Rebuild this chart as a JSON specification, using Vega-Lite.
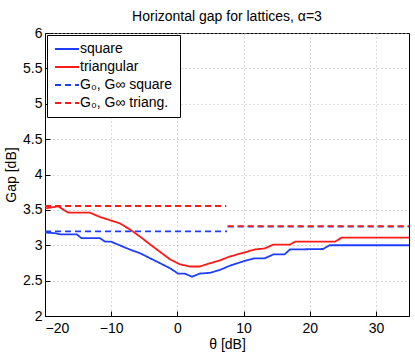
{
  "$schema": "https://vega.github.io/schema/vega-lite/v6.json",
  "width": 364,
  "height": 283,
  "autosize": {"type": "none"},
  "padding": {"left": 45, "top": 33, "right": 6, "bottom": 38},
  "title": {"text": "Horizontal gap for lattices, α=3", "fontSize": 14, "fontWeight": "normal", "font": "Liberation Sans", "offset": 2, "color": "black", "anchor": "middle"},
  "config": {
    "font": "Liberation Sans",
    "view": {"stroke": "black", "strokeWidth": 1},
    "axis": {
      "labelFont": "Liberation Sans", "labelFontSize": 14, "labelColor": "black",
      "titleFont": "Liberation Sans", "titleFontSize": 14, "titleFontWeight": "normal", "titleColor": "black",
      "domainColor": "black", "tickColor": "black", "tickSize": -5,
      "grid": true, "gridColor": "#b0b0b0", "gridDash": [1, 3], "gridWidth": 1
    }
  },
  "data": {"values": [
    {"series": "square", "seg": 1, "theta": -20, "gap": 3.18},
    {"series": "square", "seg": 1, "theta": -18.5, "gap": 3.17},
    {"series": "square", "seg": 1, "theta": -17.7, "gap": 3.155},
    {"series": "square", "seg": 1, "theta": -15.2, "gap": 3.155},
    {"series": "square", "seg": 1, "theta": -14.5, "gap": 3.10},
    {"series": "square", "seg": 1, "theta": -11.7, "gap": 3.10},
    {"series": "square", "seg": 1, "theta": -10.9, "gap": 3.05},
    {"series": "square", "seg": 1, "theta": -10, "gap": 3.05},
    {"series": "square", "seg": 1, "theta": -7.2, "gap": 2.94},
    {"series": "square", "seg": 1, "theta": -5.6, "gap": 2.886},
    {"series": "square", "seg": 1, "theta": -4.1, "gap": 2.815},
    {"series": "square", "seg": 1, "theta": -1.1, "gap": 2.675},
    {"series": "square", "seg": 1, "theta": 0.1, "gap": 2.60},
    {"series": "square", "seg": 1, "theta": 1.1, "gap": 2.60},
    {"series": "square", "seg": 1, "theta": 2.2, "gap": 2.555},
    {"series": "square", "seg": 1, "theta": 3.4, "gap": 2.60},
    {"series": "square", "seg": 1, "theta": 4.9, "gap": 2.61},
    {"series": "square", "seg": 1, "theta": 6.4, "gap": 2.65},
    {"series": "square", "seg": 1, "theta": 7.9, "gap": 2.71},
    {"series": "square", "seg": 1, "theta": 10.2, "gap": 2.78},
    {"series": "square", "seg": 1, "theta": 11.7, "gap": 2.815},
    {"series": "square", "seg": 1, "theta": 13.2, "gap": 2.815},
    {"series": "square", "seg": 1, "theta": 14.5, "gap": 2.87},
    {"series": "square", "seg": 1, "theta": 16.2, "gap": 2.87},
    {"series": "square", "seg": 1, "theta": 17, "gap": 2.94},
    {"series": "square", "seg": 1, "theta": 22, "gap": 2.947},
    {"series": "square", "seg": 1, "theta": 23, "gap": 3.0},
    {"series": "square", "seg": 1, "theta": 35, "gap": 3.0},
    {"series": "triangular", "seg": 1, "theta": -20, "gap": 3.52},
    {"series": "triangular", "seg": 1, "theta": -18, "gap": 3.55},
    {"series": "triangular", "seg": 1, "theta": -16.5, "gap": 3.46},
    {"series": "triangular", "seg": 1, "theta": -13.2, "gap": 3.46},
    {"series": "triangular", "seg": 1, "theta": -11.7, "gap": 3.40},
    {"series": "triangular", "seg": 1, "theta": -8.7, "gap": 3.31},
    {"series": "triangular", "seg": 1, "theta": -7.2, "gap": 3.225},
    {"series": "triangular", "seg": 1, "theta": -5.6, "gap": 3.12},
    {"series": "triangular", "seg": 1, "theta": -4.1, "gap": 3.01},
    {"series": "triangular", "seg": 1, "theta": -1.1, "gap": 2.80},
    {"series": "triangular", "seg": 1, "theta": 0.4, "gap": 2.73},
    {"series": "triangular", "seg": 1, "theta": 1.9, "gap": 2.70},
    {"series": "triangular", "seg": 1, "theta": 3.4, "gap": 2.70},
    {"series": "triangular", "seg": 1, "theta": 4.9, "gap": 2.745},
    {"series": "triangular", "seg": 1, "theta": 6.4, "gap": 2.785},
    {"series": "triangular", "seg": 1, "theta": 7.9, "gap": 2.84},
    {"series": "triangular", "seg": 1, "theta": 10.2, "gap": 2.90},
    {"series": "triangular", "seg": 1, "theta": 11.7, "gap": 2.94},
    {"series": "triangular", "seg": 1, "theta": 13.2, "gap": 2.955},
    {"series": "triangular", "seg": 1, "theta": 14.5, "gap": 3.01},
    {"series": "triangular", "seg": 1, "theta": 17, "gap": 3.01},
    {"series": "triangular", "seg": 1, "theta": 17.8, "gap": 3.05},
    {"series": "triangular", "seg": 1, "theta": 23.8, "gap": 3.05},
    {"series": "triangular", "seg": 1, "theta": 24.8, "gap": 3.107},
    {"series": "triangular", "seg": 1, "theta": 35, "gap": 3.107},
    {"series": "G₀, G∞ square", "seg": 1, "theta": -20, "gap": 3.195},
    {"series": "G₀, G∞ square", "seg": 1, "theta": 7.5, "gap": 3.195},
    {"series": "G₀, G∞ square", "seg": 2, "theta": 7.6, "gap": 3.262},
    {"series": "G₀, G∞ square", "seg": 2, "theta": 35, "gap": 3.262},
    {"series": "G₀, G∞ triang.", "seg": 1, "theta": -20, "gap": 3.555},
    {"series": "G₀, G∞ triang.", "seg": 1, "theta": 7.4, "gap": 3.555},
    {"series": "G₀, G∞ triang.", "seg": 2, "theta": 7.6, "gap": 3.27},
    {"series": "G₀, G∞ triang.", "seg": 2, "theta": 35, "gap": 3.27}
  ]},
  "mark": {"type": "line", "interpolate": "linear"},
  "encoding": {
    "x": {"field": "theta", "type": "quantitative",
      "scale": {"domain": [-20, 35], "nice": false, "zero": false},
      "axis": {"values": [-20, -10, 0, 10, 20, 30], "format": "d", "title": "θ [dB]", "titlePadding": 2, "labelPadding": 10}},
    "y": {"field": "gap", "type": "quantitative",
      "scale": {"domain": [2, 6], "nice": false, "zero": false},
      "axis": {"values": [2, 2.5, 3, 3.5, 4, 4.5, 5, 5.5, 6], "format": "~g", "title": "Gap [dB]", "titlePadding": 4, "labelPadding": 8}},
    "color": {"field": "series", "type": "nominal",
      "scale": {"domain": ["square", "triangular", "G₀, G∞ square", "G₀, G∞ triang."], "range": ["#1f3dff", "#ff1a1a", "#1f3dff", "#ff1a1a"]},
      "legend": {"title": null, "orient": "top-left", "offset": 2, "fillColor": "white", "strokeColor": "black", "padding": 7,
        "symbolType": "M-1,0H3", "symbolSize": 144, "labelFontSize": 14, "labelFont": "Liberation Sans", "labelColor": "black",
        "labelOffset": 12, "rowPadding": 4, "labelLimit": 300}},
    "strokeDash": {"field": "series", "type": "nominal",
      "scale": {"domain": ["square", "triangular", "G₀, G∞ square", "G₀, G∞ triang."], "range": [[1, 0], [1, 0], [6, 4], [6, 4]]},
      "legend": {"title": null}},
    "strokeWidth": {"field": "series", "type": "nominal",
      "scale": {"domain": ["square", "triangular", "G₀, G∞ square", "G₀, G∞ triang."], "range": [1.8, 1.8, 3, 3]},
      "legend": {"title": null}},
    "detail": {"field": "seg", "type": "nominal"}
  }
}
